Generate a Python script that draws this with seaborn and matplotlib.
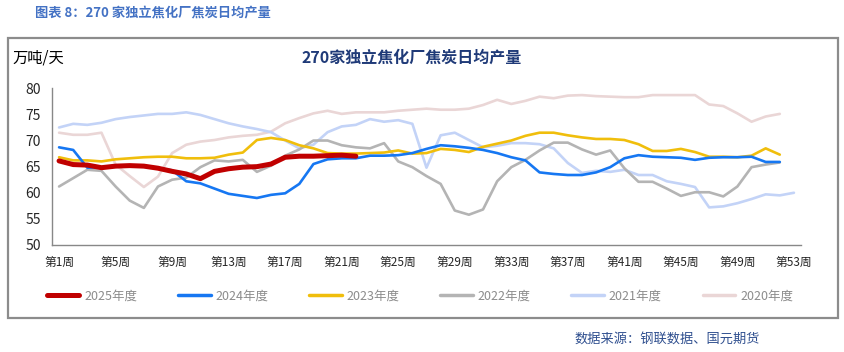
import numpy as np
import pandas as pd
import matplotlib
matplotlib.use("Agg")
import matplotlib.pyplot as plt
from matplotlib.patches import Rectangle
import seaborn as sns

# 周度数据（万吨/天）
weeks = [f"第{i}周" for i in range(1, 54)]

y2025 = [66.1, 65.4, 65.3, 64.8, 65.1, 65.2, 65.1, 64.7, 64.1, 63.6, 62.7, 64.1, 64.6, 64.9,
         65.0, 65.5, 66.8, 67.0, 67.0, 67.1, 67.2, 67.0]

y2024 = [68.7, 68.2, 64.8, 64.9, 65.1, 65.0, 65.0, 64.7, 64.3, 62.2, 61.8, 60.8, 59.8, 59.4,
         59.0, 59.6, 59.9, 61.7, 65.5, 66.4, 66.6, 66.6, 67.1, 67.1, 67.2, 67.6, 68.4, 69.1,
         68.9, 68.6, 68.2, 67.6, 66.8, 66.2, 63.9, 63.6, 63.4, 63.4, 63.9, 64.9, 66.6, 67.2,
         66.9, 66.8, 66.7, 66.3, 66.7, 66.8, 66.8, 66.9, 65.9, 65.9]

y2023 = [66.8, 66.2, 66.2, 66.0, 66.4, 66.6, 66.8, 66.9, 66.9, 66.6, 66.6, 66.7, 67.3, 67.7,
         70.1, 70.5, 70.1, 69.1, 68.5, 67.6, 67.5, 67.5, 67.6, 67.7, 68.1, 67.5, 67.6, 68.4,
         68.2, 67.8, 68.8, 69.4, 70.0, 70.9, 71.5, 71.5, 71.0, 70.6, 70.3, 70.3, 70.1, 69.3,
         68.0, 68.0, 68.4, 67.8, 66.9, 66.9, 66.8, 67.1, 68.5, 67.3]

y2022 = [61.2, 62.8, 64.4, 64.2, 61.2, 58.5, 57.1, 61.2, 62.5, 62.9, 64.9, 66.2, 66.0, 66.3,
         64.0, 65.2, 67.1, 68.3, 70.0, 70.0, 69.1, 68.7, 68.5, 69.5, 66.0, 64.9, 63.2, 61.7,
         56.6, 55.8, 56.8, 62.2, 64.9, 66.3, 68.1, 69.6, 69.6, 68.3, 67.3, 68.1, 64.7, 62.1,
         62.1, 60.8, 59.4, 60.1, 60.1, 59.3, 61.2, 64.9, 65.4, 65.8]

y2021 = [72.5, 73.2, 73.0, 73.4, 74.1, 74.5, 74.8, 75.1, 75.1, 75.4, 74.9, 74.1, 73.3, 72.7,
         72.2, 71.6, 70.0, 68.5, 69.2, 71.6, 72.7, 73.0, 74.1, 73.6, 73.9, 73.2, 64.8, 71.0,
         71.5, 70.1, 68.7, 69.0, 69.5, 69.5, 69.3, 68.5, 65.7, 63.8, 64.2, 64.0, 64.4, 63.4,
         63.4, 62.2, 61.7, 61.1, 57.2, 57.4, 58.0, 58.8, 59.7, 59.5, 60.0]

y2020 = [71.5, 71.1, 71.1, 71.5, 65.4, 63.2, 61.1, 63.1, 67.6, 69.2, 69.8, 70.1, 70.6, 70.9,
         71.1, 71.7, 73.3, 74.3, 75.2, 75.7, 75.1, 75.4, 75.4, 75.4, 75.7, 75.9, 76.1, 75.9,
         75.9, 76.1, 76.8, 77.8, 77.0, 77.6, 78.4, 78.1, 78.6, 78.7, 78.5, 78.4, 78.3, 78.3,
         78.7, 78.7, 78.7, 78.7, 76.9, 76.6, 75.2, 73.6, 74.6, 75.1]

series = {
    "2025年度": y2025,
    "2024年度": y2024,
    "2023年度": y2023,
    "2022年度": y2022,
    "2021年度": y2021,
    "2020年度": y2020,
}
colors = {
    "2025年度": "#C00000",
    "2024年度": "#1677F2",
    "2023年度": "#F0BE0C",
    "2022年度": "#B4B4B4",
    "2021年度": "#C3D3F7",
    "2020年度": "#EAD6D6",
}
widths = {"2025年度": 3.6}

rows = []
for name, vals in series.items():
    for i, v in enumerate(vals):
        rows.append({"week": i, "value": v, "year": name})
df = pd.DataFrame(rows)

sns.set_style("white")
plt.rcParams["font.family"] = ["Noto Sans CJK SC", "DejaVu Sans"]

fig = plt.figure(figsize=(8.45, 3.52), dpi=100)
ax = fig.add_axes([52 / 845, 1 - 245 / 352, 749 / 845, 156.7 / 352])

# 先画旧年份，2025 在最上层
for name in list(series.keys())[::-1]:
    sub = df[df["year"] == name]
    sns.lineplot(data=sub, x="week", y="value", ax=ax, color=colors[name],
                 linewidth=widths.get(name, 1.9), label=name, legend=False,
                 solid_capstyle="round")

ax.set_xlim(-0.5, 52.5)
ax.set_ylim(50, 80)
ax.set_yticks(range(50, 81, 5))
ax.set_xticks(range(0, 53, 4))
ax.set_xticklabels([weeks[i] for i in range(0, 53, 4)])
ax.set_xticks(np.arange(-0.5, 53, 1), minor=True)
ax.tick_params(axis="x", which="major", length=0, labelsize=8.5, pad=8)
ax.tick_params(axis="x", which="minor", length=5, color="#888888", direction="out")
ax.tick_params(axis="y", length=5, color="#888888", labelsize=10, direction="out", pad=3)
ax.set_xlabel("")
ax.set_ylabel("")
for side in ["top", "right"]:
    ax.spines[side].set_visible(False)
for side in ["left", "bottom"]:
    ax.spines[side].set_color("#888888")
    ax.spines[side].set_linewidth(1.0)

# 图例
handles = [plt.Line2D([0], [0], color=colors[n], linewidth=(3.6 if n == "2025年度" else 2.5),
                      solid_capstyle="round") for n in series]
leg = fig.legend(handles, list(series.keys()), loc="center", bbox_to_anchor=(0.497, 0.159),
                 ncol=6, frameon=False, fontsize=9, handlelength=2.6, columnspacing=3.25,
                 handletextpad=0.4)
for t in leg.get_texts():
    t.set_color("#8C8C8C")

# 外框
fig.patches.append(Rectangle((8 / 845, 1 - 318 / 352), 830 / 845, 280 / 352,
                             transform=fig.transFigure, fill=False,
                             edgecolor="#8C8C8C", linewidth=1.6))

fig.text(35 / 845, 1 - 13 / 352, "图表 8：270 家独立焦化厂焦炭日均产量", fontsize=9.5,
         fontweight="bold", color="#4472C4", va="center", ha="left")
fig.text(12 / 845, 1 - 58 / 352, "万吨/天", fontsize=11, color="black", va="center", ha="left")
fig.text(412 / 845, 1 - 58 / 352, "270家独立焦化厂焦炭日均产量", fontsize=11.5,
         fontweight="bold", color="#1F3A78", va="center", ha="center")
fig.text(760 / 845, 1 - 340 / 352, "数据来源：钢联数据、国元期货", fontsize=9.5,
         color="#2F4F8F", va="center", ha="right")

fig.savefig("out.png", dpi=100)
